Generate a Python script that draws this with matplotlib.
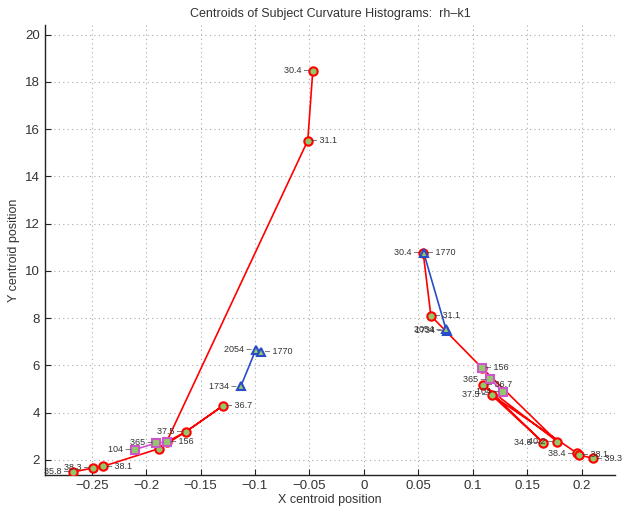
import matplotlib
matplotlib.use('Agg')
import matplotlib.pyplot as plt

plt.rcParams['font.family'] = ['Liberation Sans', 'DejaVu Sans']

# red curve, left group
red_left_x = [-0.0469, -0.0515, -0.1813, -0.1881, -0.1636, -0.1296, -0.2396, -0.2488, -0.2672]
red_left_y = [18.48, 15.52, 2.76, 2.48, 3.19, 4.29, 1.73, 1.66, 1.49]
red_left_lab = ['30.4', '31.1', '', '', '37.5', '36.7', '38.1', '38.3', '35.8']
red_left_side = ['l', 'r', 'r', 'r', 'l', 'r', 'r', 'l', 'l']
red_left_path = [0, 1, 2, 4, 5, 4, 3, 6, 7, 8]

# red curve, right group
red_right_x = [0.0545, 0.0616, 0.1082, 0.1097, 0.1174, 0.1648, 0.1777, 0.1961, 0.1979, 0.2102]
red_right_y = [10.78, 8.10, 5.91, 5.18, 4.75, 2.73, 2.78, 2.28, 2.21, 2.07]
red_right_lab = ['30.4', '31.1', '', '36.7', '37.5', '34.6', '40.2', '38.4', '38.1', '39.3']
red_right_side = ['l', 'r', 'r', 'r', 'l', 'l', 'l', 'l', 'r', 'r']
red_right_path = [0, 1, 2, 6, 3, 5, 4, 7, 8, 9]

# blue curve
blue_left_x = [-0.1131, -0.0993, -0.0947]
blue_left_y = [5.11, 6.66, 6.59]
blue_right_x = [0.0763, 0.0754, 0.0551]
blue_right_y = [7.47, 7.54, 10.76]
blue_lab = ['1734', '2054', '1770']
blue_left_side = ['l', 'l', 'r']
blue_right_side = ['l', 'l', 'r']

# magenta curve
mag_left_x = [-0.2105, -0.1905, -0.1813]
mag_left_y = [2.44, 2.72, 2.76]
mag_right_x = [0.1280, 0.1158, 0.1082]
mag_right_y = [4.89, 5.42, 5.91]
mag_lab = ['104', '365', '156']
mag_side = ['l', 'l', 'r']

fill = '#92c86a'
txt = '#333333'

fig = plt.figure(figsize=(6.24, 5.15), dpi=100)
ax = fig.add_axes([0.072, 0.078, 0.914, 0.873])


def curve(xs, ys, path, color, marker):
    px = [xs[i] for i in path]
    py = [ys[i] for i in path]
    ax.plot(px, py, '-', color=color, lw=1.2, zorder=3)
    ax.plot(xs, ys, linestyle='none', marker=marker, ms=6, mfc=fill,
            mec=color, mew=1.5, zorder=4)


def labels(xs, ys, labs, sides):
    for x, y, s, side in zip(xs, ys, labs, sides):
        if not s:
            continue
        if side == 'r':
            ax.annotate('\u2013 ' + s, (x, y), xytext=(3, 0), textcoords='offset points',
                        ha='left', va='center', fontsize=6.5, color=txt, zorder=5)
        else:
            ax.annotate(s + ' \u2013', (x, y), xytext=(-3, 0), textcoords='offset points',
                        ha='right', va='center', fontsize=6.5, color=txt, zorder=5)


curve(red_left_x, red_left_y, red_left_path, 'red', 'o')
curve(red_right_x, red_right_y, red_right_path, 'red', 'o')
curve(blue_left_x, blue_left_y, [0, 1, 2], '#2b4cc8', '^')
curve(blue_right_x, blue_right_y, [0, 1, 2], '#2b4cc8', '^')
curve(mag_left_x, mag_left_y, [0, 1, 2], '#cc55cc', 's')
curve(mag_right_x, mag_right_y, [0, 1, 2], '#cc55cc', 's')

labels(red_left_x, red_left_y, red_left_lab, red_left_side)
labels(red_right_x, red_right_y, red_right_lab, red_right_side)
labels(blue_left_x, blue_left_y, blue_lab, blue_left_side)
labels(blue_right_x, blue_right_y, blue_lab, blue_right_side)
labels(mag_left_x, mag_left_y, mag_lab, mag_side)
labels(mag_right_x, mag_right_y, mag_lab, mag_side)

ax.set_xlim(-0.293, 0.231)
ax.set_ylim(1.37, 20.4)
ax.set_xticks([-0.25, -0.2, -0.15, -0.1, -0.05, 0, 0.05, 0.1, 0.15, 0.2])
ax.set_xticklabels(['\u22120.25', '\u22120.2', '\u22120.15', '\u22120.1', '\u22120.05',
                    '0', '0.05', '0.1', '0.15', '0.2'])
ax.set_yticks(range(2, 21, 2))
ax.grid(True, linestyle=(0, (1, 3)), color='#aaaaaa', lw=0.8)
ax.set_axisbelow(True)
for sp in ['top', 'right']:
    ax.spines[sp].set_visible(False)
for sp in ['left', 'bottom']:
    ax.spines[sp].set_color('#222222')
    ax.spines[sp].set_linewidth(1.0)
ax.tick_params(direction='in', length=4, labelsize=9.5, colors='#222222', labelcolor=txt)

ax.set_title('Centroids of Subject Curvature Histograms:  rh\u2013k1', fontsize=9, color=txt, pad=6)
ax.set_xlabel('X centroid position', fontsize=9, color=txt, labelpad=2)
ax.set_ylabel('Y centroid position', fontsize=9, color=txt, labelpad=4)

fig.savefig('out.png', dpi=100)
